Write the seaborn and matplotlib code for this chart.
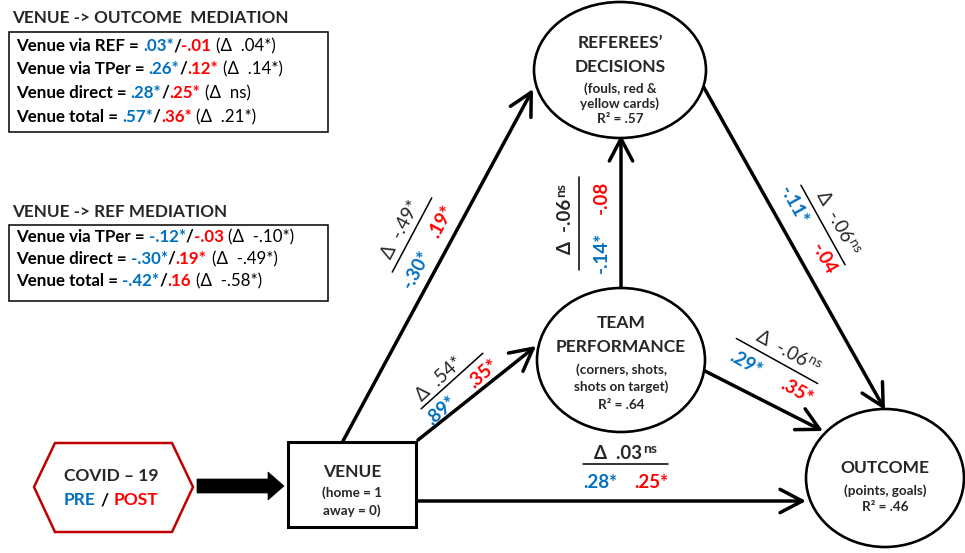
"""Path diagram: Venue -> Team performance / Referees' decisions -> Outcome, pre vs post COVID-19."""

import matplotlib

matplotlib.use("Agg")
import matplotlib.pyplot as plt
import numpy as np
import seaborn as sns
from matplotlib.patches import Ellipse, Polygon, Rectangle

W, H = 965, 553
BLUE = "#0070C0"
RED = "#FF0000"
DARK_RED = "#C00000"
FONT = ["Lato", "DejaVu Sans"]

# ---- data -------------------------------------------------------------
# path coefficients (pre / post COVID) and their difference
PATHS = ["Venue->REF", "Venue->TPer", "TPer->REF", "REF->Outcome", "TPer->Outcome", "Venue->Outcome"]
PRE = ["-.30*", ".89*", "-.14*", "-.11*", ".29*", ".28*"]
POST = [".19*", ".35*", "-.08", "-.04", ".35*", ".25*"]
DELTA = ["-.49*", ".54*", "-.06", "-.06", "-.06", ".03"]
DELTA_SIG = ["", "", "ns", "ns", "ns", "ns"]

# mediation tables
OUT_MED_TITLE = "VENUE -> OUTCOME  MEDIATION"
OUT_MED_TERMS = ["Venue via REF", "Venue via TPer", "Venue direct", "Venue total"]
OUT_MED_PRE = [".03*", ".26*", ".28*", ".57*"]
OUT_MED_POST = ["-.01", ".12*", ".25*", ".36*"]
OUT_MED_DELTA = [".04*", ".14*", "ns", ".21*"]

REF_MED_TITLE = "VENUE -> REF MEDIATION"
REF_MED_TERMS = ["Venue via TPer", "Venue direct", "Venue total"]
REF_MED_PRE = ["-.12*", "-.30*", "-.42*"]
REF_MED_POST = ["-.03", ".19*", ".16"]
REF_MED_DELTA = ["-.10*", "-.49*", "-.58*"]

# endogenous variables
NODE_TITLES = [["REFEREES’", "DECISIONS"], ["TEAM", "PERFORMANCE"], ["OUTCOME"]]
NODE_NOTES = [["(fouls, red &", "yellow cards)"], ["(corners, shots,", "shots on target)"], ["(points, goals)"]]
R_SQUARED = [".57", ".64", ".46"]

# ---- layout (pixels, y down) -----------------------------------------
ELLIPSES = [(620, 70, 172, 136), (621, 360, 168, 144), (885, 478, 158, 138)]
NODE_ROWS = [[43, 67, 89, 104, 119], [323, 347, 370, 387, 405], [468, 491, 507]]
ARROWS = [((343, 441), (533, 89)), ((418, 440), (536, 346)), ((621, 288), (621, 135)),
          ((698, 77), (885, 410)), ((703, 370), (823, 431)), ((418, 501), (806, 501))]
# center, angle, line length, top (u, v), bottom v, blue u, red u, top weight
FRACTIONS = [((412, 235), 62, 84, (0, 13), -20, -28, 26, "normal"),
             ((452, 381), 42, 83, (-8, 10), -15, -28, 28, "normal"),
             ((579, 223), 90, 93, (4, 14), -22, -29, 26, "bold"),
             ((823, 225), -61, 91, (5, 14), -16, -31, 30, "normal"),
             ((777, 361), -29, 93, (5, 14), -17, -26, 32, "normal"),
             ((625, 464), 0, 85, (0, 11), -19, -25, 26, "bold")]

TITLE_SIZE = 12.5
NOTE_SIZE = 9.7
BOX_SIZE = 12.2
LABEL_SIZE = 13.5

sns.set_theme(style="white")
plt.rcParams["font.family"] = FONT

fig = plt.figure(figsize=(W / 100, H / 100), dpi=100)
ax = fig.add_axes([0, 0, 1, 1])
ax.set_xlim(0, W)
ax.set_ylim(H, 0)
ax.axis("off")
RENDERER = fig.canvas.get_renderer()


def text_width(s, **kw):
    t = ax.text(0, 0, s, **kw)
    w = t.get_window_extent(renderer=RENDERER).width
    t.remove()
    return w


def draw_runs(x, y, runs, size):
    """Runs of (text, color, weight, gap_before) on one baseline."""
    for s, color, weight, gap in runs:
        x += gap
        ax.text(x, y, s, color=color, fontweight=weight, fontsize=size, ha="left", va="baseline")
        x += text_width(s, fontsize=size, fontweight=weight)


def mediation_box(title, terms, pre, post, delta, title_y, box, rows):
    ax.text(12, title_y, title, fontsize=12.3, fontweight="bold", ha="left", va="center")
    x0, y0, x1, y1 = box
    ax.add_patch(Rectangle((x0, y0), x1 - x0, y1 - y0, fill=False, lw=1.1, ec="black"))
    for term, a, b, d, y in zip(terms, pre, post, delta, rows):
        draw_runs(16, y + 5, [(term + " =", "black", "bold", 0),
                              (a, BLUE, "bold", 4),
                              ("/", "black", "bold", 0),
                              (b, RED, "bold", 0),
                              (f"(Δ  {d})", "black", "normal", 5)], BOX_SIZE)


mediation_box(OUT_MED_TITLE, OUT_MED_TERMS, OUT_MED_PRE, OUT_MED_POST, OUT_MED_DELTA,
              18, (9, 32, 328, 132), [46, 69, 93, 117])
mediation_box(REF_MED_TITLE, REF_MED_TERMS, REF_MED_PRE, REF_MED_POST, REF_MED_DELTA,
              212, (9, 225, 328, 301), [237, 259, 281])

# arrows
for start, end in ARROWS:
    ax.annotate("", xy=end, xytext=start,
                arrowprops=dict(arrowstyle="->, head_length=0.8, head_width=0.42",
                                lw=2.5, color="black", shrinkA=0, shrinkB=0,
                                mutation_scale=20))

# ellipse nodes
for (cx, cy, w, h), titles, notes, r2, rows in zip(ELLIPSES, NODE_TITLES, NODE_NOTES, R_SQUARED, NODE_ROWS):
    ax.add_patch(Ellipse((cx, cy), w, h, fc="white", ec="black", lw=1.9, zorder=3))
    lines = [(t, TITLE_SIZE) for t in titles] + [(n, NOTE_SIZE) for n in notes] + [(f"R² = {r2}", NOTE_SIZE)]
    for (s, size), y in zip(lines, rows):
        ax.text(cx, y, s, fontsize=size, fontweight="bold", ha="center", va="center", zorder=4)

# venue box
ax.add_patch(Rectangle((288, 442), 128, 85, fc="white", ec="black", lw=2.2, zorder=3))
ax.text(352, 472, "VENUE", fontsize=TITLE_SIZE, fontweight="bold", ha="center", va="center", zorder=4)
ax.text(352, 493, "(home = 1", fontsize=NOTE_SIZE, fontweight="bold", ha="center", va="center", zorder=4)
ax.text(352, 511, "away = 0)", fontsize=NOTE_SIZE, fontweight="bold", ha="center", va="center", zorder=4)

# covid hexagon and block arrow
ax.add_patch(Polygon([(34, 487), (55, 443), (172, 443), (193, 487), (172, 532), (55, 532)],
                     closed=True, fc="white", ec=DARK_RED, lw=1.8))
ax.add_patch(Polygon([(197, 479), (268, 479), (268, 472), (284, 486), (268, 500), (268, 493), (197, 493)],
                     closed=True, fc="black", ec="black", lw=0.5))
ax.text(111, 476, "COVID – 19", fontsize=TITLE_SIZE, fontweight="bold", ha="center", va="center")
w_pre = text_width("PRE", fontsize=TITLE_SIZE, fontweight="bold")
w_sl = text_width("/", fontsize=TITLE_SIZE, fontweight="bold")
w_post = text_width("POST", fontsize=TITLE_SIZE, fontweight="bold")
gap = 5
x = 111 - (w_pre + w_sl + w_post + 2 * gap) / 2
draw_runs(x, 505, [("PRE", BLUE, "bold", 0), ("/", "black", "bold", gap), ("POST", RED, "bold", gap)], TITLE_SIZE)

# path coefficient labels
for spec, d, sig, a, b in zip(FRACTIONS, DELTA, DELTA_SIG, PRE, POST):
    (cx, cy), ang, length, (top_u, top_v), bot_v, blue_u, red_u, weight = spec
    th = np.radians(ang)
    u = np.array([np.cos(th), -np.sin(th)])
    v = np.array([-np.sin(th), -np.cos(th)])
    c = np.array([cx, cy], dtype=float)
    p0, p1 = c - u * length / 2, c + u * length / 2
    ax.plot([p0[0], p1[0]], [p0[1], p1[1]], color="black", lw=1.1)
    kw = dict(rotation=ang, rotation_mode="anchor")
    main = f"Δ  {d}"
    w_main = text_width(main, fontsize=LABEL_SIZE, fontweight=weight)
    w_sig = text_width(sig, fontsize=10, fontweight=weight) if sig else 0
    start = c + u * (top_u - (w_main + w_sig) / 2) + v * (top_v - 6)
    ax.text(start[0], start[1], main, fontsize=LABEL_SIZE, fontweight=weight, ha="left", va="baseline", **kw)
    if sig:
        sp = start + u * (w_main + 1) + v * 6
        ax.text(sp[0], sp[1], sig, fontsize=10, fontweight=weight, ha="left", va="baseline", **kw)
    for s, col, off in ((a, BLUE, blue_u), (b, RED, red_u)):
        p = c + u * off + v * bot_v
        ax.text(p[0], p[1], s, fontsize=LABEL_SIZE, fontweight="bold", color=col,
                ha="center", va="center", **kw)

fig.savefig("out.png", dpi=100, facecolor="white")
